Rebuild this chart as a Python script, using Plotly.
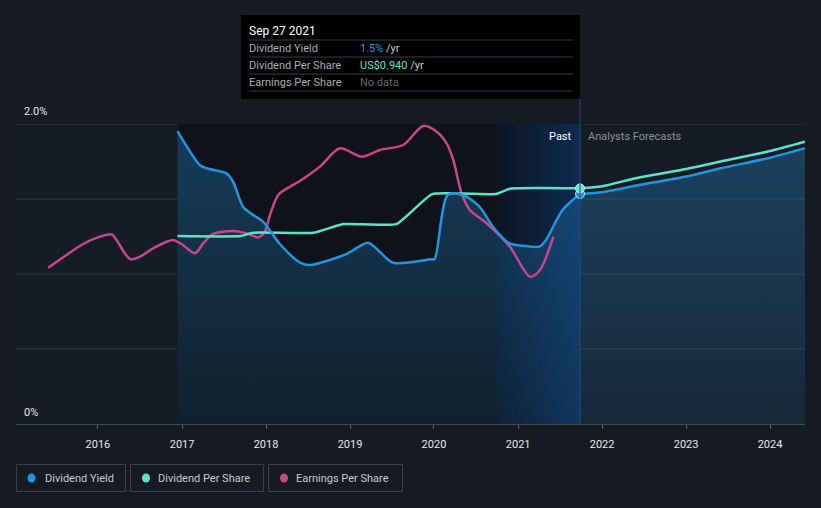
import plotly.graph_objects as go
import pandas as pd

# ---------------- data ----------------
yield_dates = ["2016-12-12", "2017-03-19", "2017-04-17", "2017-07-13", "2017-08-11", "2017-09-23",
               "2017-11-06", "2017-12-19", "2018-03-02", "2018-05-27", "2018-07-10", "2018-12-16",
               "2019-03-20", "2019-05-10", "2019-07-07", "2019-12-20", "2020-01-04", "2020-03-01",
               "2020-05-05", "2020-07-17", "2020-09-13", "2020-11-24", "2021-01-21", "2021-04-03",
               "2021-05-02", "2021-07-13", "2021-09-27"]
yield_vals = [1.953, 1.727, 1.705, 1.671, 1.615, 1.449,
              1.393, 1.349, 1.20, 1.078, 1.06, 1.133,
              1.209, 1.149, 1.075, 1.098, 1.10, 1.527,
              1.527, 1.449, 1.315, 1.204, 1.189, 1.182,
              1.227, 1.427, 1.533]
yield_fc_dates = ["2021-09-27", "2022-01-01", "2022-06-01", "2023-01-01", "2023-06-01", "2024-01-01", "2024-06-01"]
yield_fc_vals = [1.533, 1.545, 1.59, 1.65, 1.705, 1.775, 1.838]

dps_dates = ["2016-12-12", "2017-09-12", "2017-11-05", "2018-07-27", "2018-12-03", "2019-07-22",
             "2019-12-24", "2020-09-27", "2020-11-27", "2021-09-27"]
dps_vals = [1.253, 1.253, 1.275, 1.275, 1.333, 1.333,
            1.533, 1.533, 1.569, 1.571]
dps_fc_dates = ["2021-09-27", "2022-01-01", "2022-06-01", "2023-01-01", "2023-06-01", "2024-01-01", "2024-06-01"]
dps_fc_vals = [1.571, 1.585, 1.64, 1.70, 1.75, 1.82, 1.882]

eps_dates = ["2015-05-30", "2015-08-18", "2015-10-29", "2016-01-10", "2016-03-01", "2016-03-22",
             "2016-04-27", "2016-05-23", "2016-07-02", "2016-08-28", "2016-10-26", "2016-11-23",
             "2016-12-30", "2017-02-26", "2017-04-03", "2017-05-16", "2017-08-11", "2017-10-09",
             "2017-11-28", "2017-12-27", "2018-01-18", "2018-02-23", "2018-04-15", "2018-05-28",
             "2018-08-23", "2018-11-18", "2019-02-21", "2019-05-11", "2019-08-20", "2019-11-15",
             "2020-01-13", "2020-02-25", "2020-03-25", "2020-04-30", "2020-06-05", "2020-08-17",
             "2020-11-26", "2021-02-21", "2021-04-06", "2021-06-03"]
eps_vals = [1.042, 1.127, 1.20, 1.249, 1.264, 1.227,
            1.138, 1.098, 1.116, 1.171, 1.215, 1.227,
            1.20, 1.138, 1.204, 1.267, 1.287, 1.271,
            1.244, 1.282, 1.393, 1.527, 1.582, 1.62,
            1.716, 1.838, 1.782, 1.827, 1.86, 1.987,
            1.949, 1.871, 1.76, 1.538, 1.427, 1.338,
            1.182, 0.982, 1.027, 1.249]

tick_years = [2016, 2017, 2018, 2019, 2020, 2021, 2022, 2023, 2024]
y_labels = ["0%", "2.0%"]
grid_vals = [0.5, 1.0, 1.5, 2.0]
x_start, x_end = "2015-01-10", "2024-06-01"
dark_start = "2016-12-12"
past_start = "2020-09-27"
forecast_start = "2021-09-27"

tooltip_date = "Sep 27 2021"
tooltip_rows = ["Dividend Yield", "Dividend Per Share", "Earnings Per Share"]
tooltip_values = ['<span style="color:#2394df">1.5%</span> /yr',
                  '<span style="color:#5de3c9">US$0.940</span> /yr',
                  '<span style="color:#666a70">No data</span>']

legend_labels = ["Dividend Yield", "Dividend Per Share", "Earnings Per Share"]
legend_colors = ["#2394df", "#5de3c9", "#c8478a"]

# ---------------- layout helpers ----------------
W, H = 821, 508
L, R, T, B = 16, 16, 124, 84
def px(x):
    return (x - L) / (W - L - R)
def py(y):
    return (H - B - y) / (H - T - B)

BLUE, TEAL, MAG = legend_colors
FONT = "Roboto, 'Noto Sans', sans-serif"

fig = go.Figure()

# fill under dividend yield (past + forecast)
fill_x = yield_dates + yield_fc_dates[1:]
fill_y = yield_vals + yield_fc_vals[1:]
fig.add_trace(go.Scatter(
    x=fill_x, y=fill_y, mode="none", fill="tozeroy",
    line=dict(shape="spline", smoothing=0.8),
    fillgradient=dict(type="vertical",
                      colorscale=[[0, "rgba(35,148,224,0.10)"], [1, "rgba(35,148,224,0.32)"]]),
    hoverinfo="skip", showlegend=False))

# lines
fig.add_trace(go.Scatter(x=eps_dates, y=eps_vals, mode="lines",
                         line=dict(color=MAG, width=2.5, shape="spline", smoothing=0.8),
                         hoverinfo="skip", showlegend=False))
fig.add_trace(go.Scatter(x=dps_dates, y=dps_vals, mode="lines",
                         line=dict(color=TEAL, width=2.5, shape="spline", smoothing=0.4),
                         hoverinfo="skip", showlegend=False))
fig.add_trace(go.Scatter(x=dps_fc_dates, y=dps_fc_vals, mode="lines",
                         line=dict(color=TEAL, width=2.5, shape="spline", smoothing=0.6),
                         hoverinfo="skip", showlegend=False))
fig.add_trace(go.Scatter(x=yield_dates, y=yield_vals, mode="lines",
                         line=dict(color=BLUE, width=2.5, shape="spline", smoothing=0.8),
                         hoverinfo="skip", showlegend=False))
fig.add_trace(go.Scatter(x=yield_fc_dates, y=yield_fc_vals, mode="lines",
                         line=dict(color=BLUE, width=2.5, shape="spline", smoothing=0.6),
                         hoverinfo="skip", showlegend=False))
# markers at the cursor date
fig.add_trace(go.Scatter(x=[yield_dates[-1]], y=[yield_vals[-1]], mode="markers",
                         marker=dict(color=BLUE, size=9, line=dict(color="#c8d6e6", width=1)),
                         hoverinfo="skip", showlegend=False))
fig.add_trace(go.Scatter(x=[dps_dates[-1]], y=[dps_vals[-1]], mode="markers",
                         marker=dict(color="#6fe2d2", size=9, line=dict(color="#c8e6e6", width=1)),
                         hoverinfo="skip", showlegend=False))

shapes = []
# darker region (last years before past)
shapes.append(dict(type="rect", xref="x", yref="y", x0=dark_start, x1=past_start, y0=0, y1=2.0,
                   fillcolor="#0f1319", line=dict(width=0), layer="below"))
# past-year gradient
steps = 28
edges = pd.date_range(past_start, forecast_start, periods=steps + 1)
c0, c1 = (12, 21, 36), (14, 43, 80)
for i in range(steps):
    f = (i + 0.5) / steps
    col = "rgb(%d,%d,%d)" % tuple(round(a + (b - a) * f) for a, b in zip(c0, c1))
    shapes.append(dict(type="rect", xref="x", yref="y", x0=edges[i], x1=edges[i + 1], y0=0, y1=2.0,
                       fillcolor=col, line=dict(width=0), layer="below"))
# horizontal grid lines
for g in grid_vals:
    shapes.append(dict(type="line", xref="paper", yref="y", x0=0, x1=1, y0=g, y1=g,
                       line=dict(color="#2f353f", width=1), layer="between"))
# vertical line at forecast start
shapes.append(dict(type="line", xref="x", yref="paper", x0=forecast_start, x1=forecast_start,
                   y0=0, y1=py(99), line=dict(color="#1f4c85", width=1), layer="above"))

# tooltip box
shapes.append(dict(type="rect", xref="paper", yref="paper", x0=px(241), x1=px(580), y0=py(99), y1=py(15),
                   fillcolor="#000000", line=dict(width=0), layer="above"))
for yy in [40, 57, 74, 91]:
    shapes.append(dict(type="line", xref="paper", yref="paper", x0=px(249), x1=px(573), y0=py(yy), y1=py(yy),
                       line=dict(color="#3a3d42", width=1), layer="above"))

# legend boxes
box_x = [(16.5, 125.5), (130.5, 263.5), (268.5, 402.5)]
dot_x = [31.5, 146, 284]
for (a, b), d, c in zip(box_x, dot_x, legend_colors):
    shapes.append(dict(type="rect", xref="paper", yref="paper", x0=px(a), x1=px(b), y0=py(491.5), y1=py(464.5),
                       fillcolor="rgba(0,0,0,0)", line=dict(color="#3b414b", width=1), layer="above"))
    shapes.append(dict(type="circle", xref="paper", yref="paper", x0=px(d - 4), x1=px(d + 4),
                       y0=py(482.5), y1=py(473.5), fillcolor=c, line=dict(width=0), layer="above"))

annotations = []
annotations.append(dict(xref="paper", yref="paper", x=px(22), y=py(112), text=y_labels[1], showarrow=False,
                        xanchor="left", yanchor="middle", font=dict(color="#e6e6e6", size=11, family=FONT)))
annotations.append(dict(xref="paper", yref="paper", x=px(22), y=py(412), text=y_labels[0], showarrow=False,
                        xanchor="left", yanchor="middle", font=dict(color="#e6e6e6", size=11, family=FONT)))
annotations.append(dict(xref="paper", yref="paper", x=px(574), y=py(136), text="Past", showarrow=False,
                        xanchor="right", yanchor="middle", font=dict(color="#ffffff", size=11, family=FONT)))
annotations.append(dict(xref="paper", yref="paper", x=px(586), y=py(136), text="Analysts Forecasts", showarrow=False,
                        xanchor="left", yanchor="middle", font=dict(color="#8a8f98", size=11, family=FONT)))
# tooltip texts
annotations.append(dict(xref="paper", yref="paper", x=px(247), y=py(31), text=tooltip_date, showarrow=False,
                        xanchor="left", yanchor="middle", font=dict(color="#ffffff", size=12, family=FONT)))
for i, (lab, val) in enumerate(zip(tooltip_rows, tooltip_values)):
    yy = 48.5 + 17 * i
    annotations.append(dict(xref="paper", yref="paper", x=px(247), y=py(yy), text=lab, showarrow=False,
                            xanchor="left", yanchor="middle", font=dict(color="#a9adb3", size=11, family=FONT)))
    annotations.append(dict(xref="paper", yref="paper", x=px(358), y=py(yy), text=val, showarrow=False,
                            xanchor="left", yanchor="middle", font=dict(color="#c9ccd0", size=11, family=FONT)))
# legend texts
text_x = [42.5, 156, 294]
for t, lab in zip(text_x, legend_labels):
    annotations.append(dict(xref="paper", yref="paper", x=px(t), y=py(478), text=lab, showarrow=False,
                            xanchor="left", yanchor="middle", font=dict(color="#c8cacd", size=11, family=FONT)))

fig.update_layout(
    width=W, height=H,
    margin=dict(l=L, r=R, t=T, b=B),
    paper_bgcolor="#151a23",
    plot_bgcolor="#161c26",
    showlegend=False,
    hovermode=False,
    shapes=shapes,
    annotations=annotations,
    xaxis=dict(range=[x_start, x_end], type="date",
               tickvals=["%d-01-01" % y for y in tick_years],
               ticktext=[str(y) for y in tick_years],
               showgrid=False, zeroline=False,
               showline=True, linecolor="#454b55", linewidth=1,
               ticks="outside", ticklen=4, tickcolor="#5a606a",
               tickfont=dict(color="#e8e8e8", size=11, family=FONT),
               ticklabelstandoff=6, fixedrange=True),
    yaxis=dict(range=[0, 2.0], showticklabels=False,
               showgrid=False, zeroline=False,
               showline=False, fixedrange=True),
)

fig.write_html("out.html", config={"displayModeBar": False},
               post_script="document.body.style.margin='0px';document.body.style.background='#151a23';")
